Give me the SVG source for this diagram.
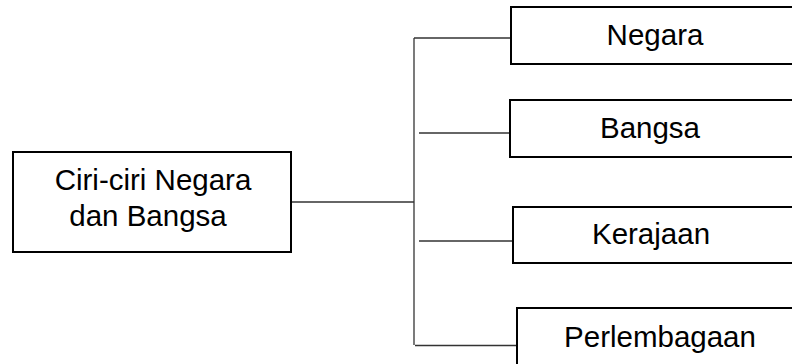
<svg xmlns="http://www.w3.org/2000/svg" width="792" height="364" viewBox="0 0 792 364">
<style>
.box{fill:#fff;stroke:#000;stroke-width:2}
.lbl{font-family:"Liberation Sans",Arial,sans-serif;font-size:29.5px;fill:#000;text-anchor:middle}
.con{stroke:#333;stroke-width:1.3;fill:none}
</style>
<rect width="792" height="364" fill="#fff"/>
<g id="connectors">
<line class="con" x1="292" y1="202" x2="414" y2="202"/>
<line class="con" x1="414" y1="38" x2="414" y2="345"/>
<line class="con" x1="414" y1="38" x2="518" y2="38"/>
<line class="con" x1="419" y1="133" x2="516" y2="133"/>
<line class="con" x1="419" y1="241" x2="512" y2="241"/>
<line class="con" x1="415" y1="345.5" x2="519" y2="345.5"/>
</g>
<g id="main">
<rect class="box" x="13" y="152" width="278" height="100"/>
<text class="lbl" x="153" y="190">Ciri-ciri Negara</text>
<text class="lbl" x="148" y="226">dan Bangsa</text>
</g>
<g id="negara">
<rect class="box" x="511" y="7" width="290" height="57"/>
<text class="lbl" x="655" y="45">Negara</text>
</g>
<g id="bangsa">
<rect class="box" x="510" y="100" width="290" height="57"/>
<text class="lbl" x="650" y="138">Bangsa</text>
</g>
<g id="kerajaan">
<rect class="box" x="513" y="207" width="290" height="56"/>
<text class="lbl" x="651" y="244">Kerajaan</text>
</g>
<g id="perlembagaan">
<rect class="box" x="517" y="308" width="290" height="70"/>
<text class="lbl" x="660" y="347">Perlembagaan</text>
</g>
</svg>
